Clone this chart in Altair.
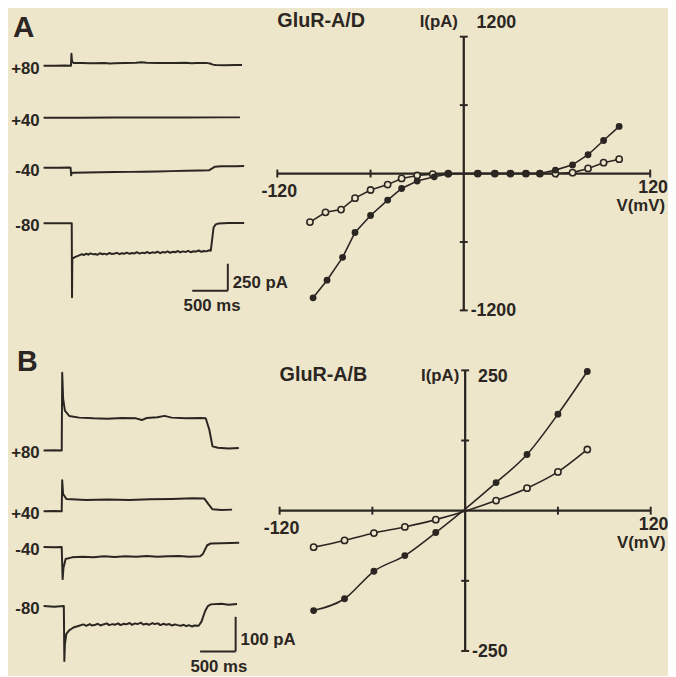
import altair as alt
import pandas as pd

# ------------------------------------------------------------------ data
# Panel A (GluR-A/D): current traces, time (ms) and current (pA, relative to holding)
trace_labels = ["+80", "+40", "-40", "-80"]

a_p80_t = [0, 150, 300, 385, 392, 400, 420, 550, 640, 700, 850, 930, 1000, 1150, 1300, 1380, 1450,
           1600, 1700, 1850, 2000, 2080, 2150, 2300, 2340, 2380, 2420, 2550, 2700, 2790]
a_p80_i = [0, 0, 1, 0, 110, 40, 26, 25, 22, 23, 25, 21, 22, 24, 27, 31, 28,
           26, 24, 25, 27, 23, 25, 24, 20, 10, 6, 5, 7, 6]
a_p40_t = [0, 500, 1000, 1500, 2000, 2500, 2760]
a_p40_i = [0, 0, 1, 2, 2, 3, 3]
a_m40_t = [0, 200, 360, 380, 388, 395, 420, 600, 800, 1000, 1200, 1400, 1600, 1800, 2000, 2200,
           2330, 2370, 2410, 2500, 2700, 2820]
a_m40_i = [0, 1, 2, 0, -70, -48, -46, -44, -42, -40, -38, -36, -34, -31, -28, -25,
           -22, -5, 10, 14, 15, 16]
a_m80_t = [0, 330, 396, 400, 404, 440, 500, 540, 565, 600, 630, 660, 700, 725, 760, 790, 830, 850,
           890, 930, 960, 1000, 1030, 1070, 1100, 1140, 1170, 1210, 1240, 1280, 1310, 1350, 1390,
           1420, 1460, 1490, 1530, 1570, 1600, 1640, 1670, 1710, 1740, 1780, 1820, 1850, 1890,
           1920, 1960, 2000, 2030, 2070, 2110, 2140, 2180, 2220, 2250, 2290, 2330, 2350, 2370,
           2390, 2420, 2460, 2600, 2820]
a_m80_i = [0, 0, 0, -688, -330, -315, -300, -288, -296, -284, -293, -281, -290, -286, -294, -280,
           -289, -283, -291, -277, -287, -282, -276, -288, -279, -284, -273, -285, -277, -281,
           -270, -283, -274, -279, -268, -280, -271, -276, -265, -279, -268, -273, -263, -275,
           -266, -270, -259, -272, -262, -268, -257, -270, -261, -265, -254, -267, -258, -262,
           -252, -256, -150, -40, -12, -3, 2, 1]

# Panel B (GluR-A/B): current traces
b_p80_t = [0, 150, 255, 262, 275, 300, 360, 500, 700, 900, 1100, 1300, 1380, 1450, 1600, 1700,
           1800, 2000, 2200, 2280, 2330, 2375, 2450, 2600, 2745]
b_p80_i = [0, 1, 0, 225, 150, 115, 100, 95, 93, 92, 94, 93, 88, 94, 96, 100,
           95, 93, 94, 93, 60, 12, 8, 6, 7]
b_p40_t = [0, 150, 255, 262, 275, 320, 600, 900, 1200, 1500, 1800, 2100, 2260, 2320, 2375, 2500, 2650]
b_p40_i = [0, 1, 0, 90, 50, 36, 33, 34, 33, 35, 36, 38, 37, 20, 6, 4, 5]
b_m40_t = [0, 150, 255, 268, 280, 310, 400, 550, 700, 850, 1000, 1150, 1300, 1450, 1600, 1750,
           1900, 2050, 2200, 2240, 2300, 2350, 2500, 2750]
b_m40_i = [0, -1, 0, -93, -60, -35, -30, -28, -30, -27, -29, -27, -28, -26, -28, -27,
           -26, -28, -27, -20, 5, 10, 11, 12]
b_m80_t = [0, 150, 285, 292, 300, 320, 360, 420, 500, 560, 600, 650, 680, 730, 760, 800, 840,
           890, 920, 970, 1000, 1050, 1080, 1130, 1160, 1210, 1240, 1290, 1320, 1370, 1400, 1450,
           1480, 1530, 1560, 1610, 1640, 1690, 1720, 1770, 1800, 1850, 1880, 1930, 1960, 2010,
           2040, 2090, 2120, 2180, 2220, 2270, 2310, 2350, 2500, 2600, 2720]
b_m80_i = [0, -2, 0, -159, -110, -80, -70, -62, -57, -53, -57, -52, -56, -54, -51, -56, -53,
           -50, -55, -52, -54, -50, -55, -51, -53, -49, -54, -50, -52, -48, -53, -51,
           -54, -49, -52, -50, -55, -51, -54, -52, -56, -53, -55, -57, -54, -58,
           -55, -59, -56, -57, -45, -15, 0, 5, 7, 4, 6]

# Panel A I-V relation (mV, pA)
iv_a_fill_v = [-97, -88, -78, -70, -60, -49, -40, -30, -19, -10, 9, 20, 30, 40, 49, 59, 70, 80, 90, 100]
iv_a_fill_i = [-1090, -935, -735, -517, -368, -233, -131, -66, -29, -3, 0, 0, 0, 0, 0, 30, 76, 165, 290, 413]
iv_a_open_v = [-99, -89, -79, -70, -60, -49, -40, -30, -20, -10, 9, 20, 30, 40, 49, 59, 70, 80, 90, 100]
iv_a_open_i = [-426, -340, -316, -216, -144, -97, -43, -17, -5, 0, 0, 0, 0, 0, 0, 0, 8, 45, 95, 126]

# Panel B I-V relation
iv_b_v = [-98, -78, -59, -39, -19, 20, 40, 60, 79]
iv_b_fill_i = [-178, -157, -108, -80, -39, 50, 100, 172, 248]
iv_b_open_i = [-65, -53, -40, -29, -16, 18, 40, 69, 109]

# axis extents / tick values
iv_a_xticks = [-120, -60, 60, 120]
iv_a_yticks = [-1200, -600, 600, 1200]
iv_b_xticks = [-120, -60, 60, 120]
iv_b_yticks = [-250, -125, 125, 250]

# ------------------------------------------------------------------ layout / style
INK = "#2b2622"
BG = "#eee6cb"
FONT = "Liberation Sans"
W, H = 668, 668


def lin(v0, p0, v1, p1, lo, hi):
    s = (v1 - v0) / (p1 - p0)
    return [v0 + (lo - p0) * s, v0 + (hi - p0) * s]


def scales(xv0, xp0, xv1, xp1, yv0, yp0, yv1, yp1):
    sx = alt.Scale(domain=lin(xv0, xp0, xv1, xp1, 0, W), nice=False, zero=False)
    sy = alt.Scale(domain=lin(yv0, yp0, yv1, yp1, H, 0), nice=False, zero=False)
    return sx, sy


# panel placements (pixel anchors inside the chart)
TA = scales(0, 36, 500, 72, 0, 213.7, 250, 186.45)
TB = scales(0, 36, 500, 72, 0, 601.3, 100, 566.3)
IA = scales(0, 461.3, 120, 650, 0, 163.5, 1200, 25.0)
IB = scales(0, 462.7, 120, 650.5, 0, 504.7, 250, 362.7)

a_offsets = [1462, 979, 514, 0]
b_offsets = [450, 274, 171, 0]


def enc(sc, xf="x", yf="y"):
    return dict(x=alt.X(f"{xf}:Q", scale=sc[0], axis=None),
                y=alt.Y(f"{yf}:Q", scale=sc[1], axis=None))


def trace_df(series, offsets):
    rows = []
    for lab, (ts, vs), off in zip(trace_labels, series, offsets):
        for t, v in zip(ts, vs):
            rows.append({"trace": lab, "x": t, "y": v + off})
    return pd.DataFrame(rows)


def text(sc, xv, yv, s, **kw):
    df = pd.DataFrame({"x": [xv], "y": [yv], "s": [s]})
    base = dict(font=FONT, color=INK, fontSize=18, fontWeight="bold", baseline="middle")
    base.update(kw)
    return alt.Chart(df).mark_text(**base).encode(text="s:N", **enc(sc))


layers = []


def trace_panel(sc, series, offsets, bar_t, bar_i, bar_len_i, bar_txt, pa_dy, ms_dx, ms_dy):
    df = trace_df(series, offsets)
    layers.append(alt.Chart(df).mark_line(color=INK, strokeWidth=2, strokeJoin="round")
                  .encode(detail="trace:N", order="x:Q", **enc(sc)))
    lab = pd.DataFrame({"x": [0] * 4, "y": offsets, "s": trace_labels})
    layers.append(alt.Chart(lab).mark_text(font=FONT, color=INK, fontSize=17, fontWeight="bold",
                                           align="right", baseline="middle", dx=-4, dy=3)
                  .encode(text="s:N", **enc(sc)))
    bars = pd.DataFrame({"x": [bar_t - 500, bar_t], "x2": [bar_t, bar_t],
                         "y": [bar_i, bar_i], "y2": [bar_i, bar_i + bar_len_i]})
    layers.append(alt.Chart(bars).mark_rule(color=INK, strokeWidth=2)
                  .encode(x2="x2:Q", y2="y2:Q", **enc(sc)))
    layers.append(text(sc, bar_t, bar_i, bar_txt, align="left", dx=5, dy=pa_dy, fontSize=17))
    layers.append(text(sc, bar_t - 250, bar_i, "500 ms", align="center", dx=ms_dx, dy=ms_dy,
                       fontSize=17))


trace_panel(TA, [(a_p80_t, a_p80_i), (a_p40_t, a_p40_i), (a_m40_t, a_m40_i), (a_m80_t, a_m80_i)],
            a_offsets, 2590, -627, 250, "250 pA", -8, 2, 16)
trace_panel(TB, [(b_p80_t, b_p80_i), (b_p40_t, b_p40_i), (b_m40_t, b_m40_i), (b_m80_t, b_m80_i)],
            b_offsets, 2700, -131, 100, "100 pA", -11, 1, 16)


def iv_panel(sc, xt, yt, fv, fi, ov, oi, title, interp, top_dy):
    xmin, xmax, ymin, ymax = xt[0], xt[-1], yt[0], yt[-1]
    ax = pd.DataFrame({"x": [xmin, 0], "x2": [xmax, 0], "y": [0, ymin], "y2": [0, ymax]})
    layers.append(alt.Chart(ax).mark_rule(color=INK, strokeWidth=2.3)
                  .encode(x2="x2:Q", y2="y2:Q", **enc(sc)))
    layers.append(alt.Chart(pd.DataFrame({"x": xt, "y": [0] * len(xt)}))
                  .mark_tick(orient="vertical", size=8, thickness=2, color=INK, opacity=1)
                  .encode(**enc(sc)))
    layers.append(alt.Chart(pd.DataFrame({"x": [0] * len(yt), "y": yt}))
                  .mark_tick(orient="horizontal", size=8, thickness=2, color=INK, opacity=1)
                  .encode(**enc(sc)))
    fdf = pd.DataFrame({"x": fv, "y": fi})
    odf = pd.DataFrame({"x": ov, "y": oi})
    layers.append(alt.Chart(odf).mark_line(color=INK, strokeWidth=1.6, interpolate=interp)
                  .encode(**enc(sc)))
    layers.append(alt.Chart(fdf).mark_line(color=INK, strokeWidth=1.6, interpolate=interp)
                  .encode(**enc(sc)))
    layers.append(alt.Chart(odf).mark_point(shape="circle", filled=True, fill=BG, stroke=INK,
                                            strokeWidth=1.6, size=40, opacity=1, fillOpacity=1)
                  .encode(**enc(sc)))
    layers.append(alt.Chart(fdf).mark_circle(color=INK, size=48, opacity=1)
                  .encode(**enc(sc)))
    # labels
    layers.append(text(sc, xmin, ymax, title, align="left", fontSize=20, dx=0, dy=top_dy,
                       baseline="alphabetic"))
    layers.append(text(sc, 0, ymax, "I(pA)", align="right", dx=-6, dy=top_dy,
                       baseline="alphabetic", fontSize=17))
    layers.append(text(sc, 0, ymax, str(ymax), align="left", dx=13, dy=top_dy + 1,
                       baseline="alphabetic"))
    layers.append(text(sc, 0, ymin, str(ymin), align="left", dx=7, dy=1))
    layers.append(text(sc, xmin, 0, str(xmin), align="center", dx=2, dy=19))
    layers.append(text(sc, xmax, 0, str(xmax), align="center", dx=3, dy=15))
    layers.append(text(sc, xmax, 0, "V(mV)", align="right", dx=15, dy=33, fontSize=17))


iv_panel(IA, iv_a_xticks, iv_a_yticks, iv_a_fill_v, iv_a_fill_i, iv_a_open_v, iv_a_open_i,
         "GluR-A/D", "linear", -10)
iv_panel(IB, iv_b_xticks, iv_b_yticks, iv_b_v, iv_b_fill_i, iv_b_v, iv_b_open_i,
         "GluR-A/B", "monotone", 11)

layers.append(alt.Chart(pd.DataFrame({"s": ["A"]})).mark_text(
    font=FONT, fontSize=30, fontWeight="bold", color=INK, align="center", baseline="middle")
    .encode(text="s:N", x=alt.value(16), y=alt.value(16)))
layers.append(alt.Chart(pd.DataFrame({"s": ["B"]})).mark_text(
    font=FONT, fontSize=29, fontWeight="bold", color=INK, align="center", baseline="middle")
    .encode(text="s:N", x=alt.value(19.5), y=alt.value(354)))

chart = (alt.layer(*layers)
         .resolve_scale(x="independent", y="independent")
         .properties(width=W, height=H, padding=0, autosize="none", background=BG)
         .configure_view(stroke=None))

chart.save("out.html", embed_options={"renderer": "svg", "actions": False})
